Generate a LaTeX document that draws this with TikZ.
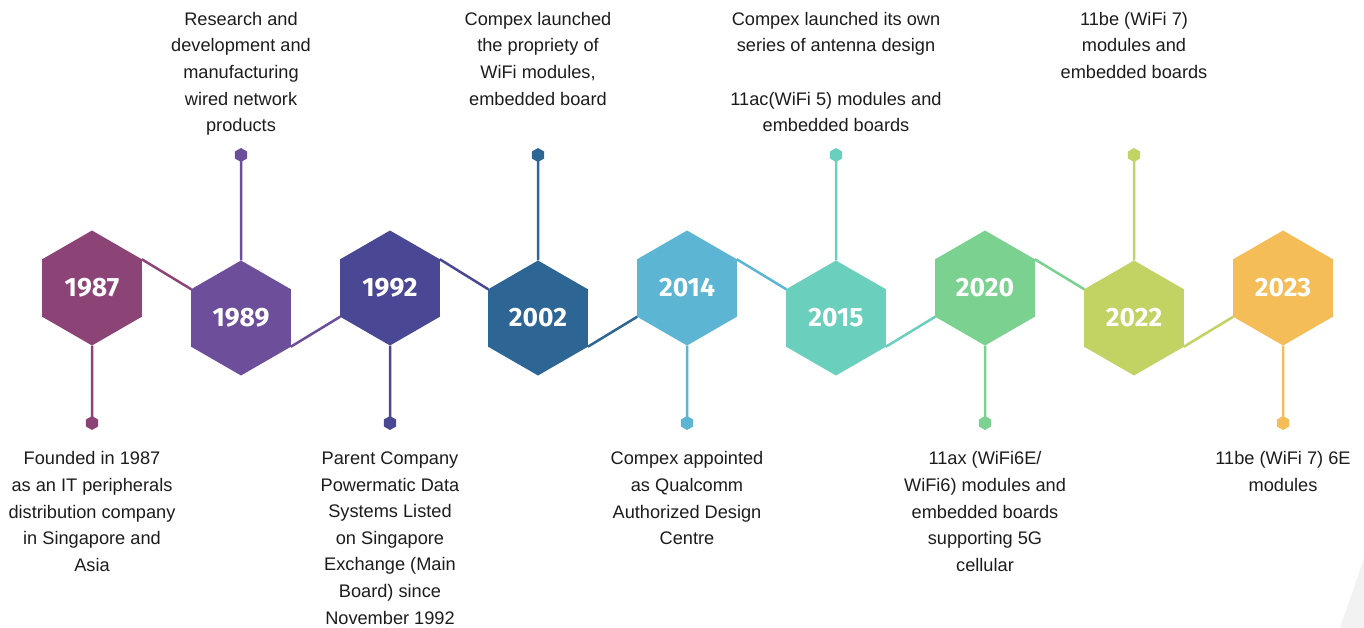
\documentclass[tikz,border=0pt]{standalone}
\usepackage{fontspec}
\setmainfont{Liberation Sans}
\newfontfamily\yearfont{Fira Sans}
\usetikzlibrary{shapes.geometric}
\definecolor{cA}{HTML}{8C4477}
\definecolor{cB}{HTML}{6D4E9A}
\definecolor{cC}{HTML}{4A4894}
\definecolor{cD}{HTML}{2D6595}
\definecolor{cE}{HTML}{5CB5D2}
\definecolor{cF}{HTML}{6ACFBC}
\definecolor{cG}{HTML}{7BD190}
\definecolor{cH}{HTML}{C2D263}
\definecolor{cI}{HTML}{F4BD58}
\definecolor{txt}{HTML}{1C1C1C}
\tikzset{
  hexa/.style={regular polygon, regular polygon sides=6, shape border rotate=30,
    minimum size=115pt, inner sep=0pt, outer sep=0pt, fill=#1, draw=none,
    text=white, font=\yearfont\bfseries\fontsize{26.5}{26.5}\selectfont},
  dotx/.style={regular polygon, regular polygon sides=6, shape border rotate=30,
    minimum size=14pt, inner sep=0pt, outer sep=0pt, fill=#1, draw=none},
  conn/.style={line width=2.5pt, draw=#1},
  desc/.style={anchor=north, align=center, inner sep=0pt, text=txt,
    font=\fontsize{18.2}{26.6}\selectfont}
}
\begin{document}
\begin{tikzpicture}[x=1pt,y=-1pt]
\useasboundingbox (0,0) rectangle (1364,628);
\fill[gray!10] (1340,628) -- (1364,558) -- (1364,628) -- cycle;
% hexagons
\node[hexa=cA] (h1) at (92,288) {1987};
\node[hexa=cB] (h2) at (241,318) {1989};
\node[hexa=cC] (h3) at (390,288) {1992};
\node[hexa=cD] (h4) at (538,318) {2002};
\node[hexa=cE] (h5) at (687,288) {2014};
\node[hexa=cF] (h6) at (836,318) {2015};
\node[hexa=cG] (h7) at (985,288) {2020};
\node[hexa=cH] (h8) at (1134,318) {2022};
\node[hexa=cI] (h9) at (1283,288) {2023};
% dots
\node[dotx=cA] (d1) at (92,423) {};
\node[dotx=cB] (d2) at (241,155) {};
\node[dotx=cC] (d3) at (390,423) {};
\node[dotx=cD] (d4) at (538,155) {};
\node[dotx=cE] (d5) at (687,423) {};
\node[dotx=cF] (d6) at (836,155) {};
\node[dotx=cG] (d7) at (985,423) {};
\node[dotx=cH] (d8) at (1134,155) {};
\node[dotx=cI] (d9) at (1283,423) {};
% connectors between hexagons
\draw[conn=cA] (h1.30) -- (h2.150);
\draw[conn=cB] (h2.-30) -- (h3.210);
\draw[conn=cC] (h3.30) -- (h4.150);
\draw[conn=cD] (h4.-30) -- (h5.210);
\draw[conn=cE] (h5.30) -- (h6.150);
\draw[conn=cF] (h6.-30) -- (h7.210);
\draw[conn=cG] (h7.30) -- (h8.150);
\draw[conn=cH] (h8.-30) -- (h9.210);
% stems
\draw[conn=cA] (h1.south) -- (d1.center);
\draw[conn=cB] (h2.north) -- (d2.center);
\draw[conn=cC] (h3.south) -- (d3.center);
\draw[conn=cD] (h4.north) -- (d4.center);
\draw[conn=cE] (h5.south) -- (d5.center);
\draw[conn=cF] (h6.north) -- (d6.center);
\draw[conn=cG] (h7.south) -- (d7.center);
\draw[conn=cH] (h8.north) -- (d8.center);
\draw[conn=cI] (h9.south) -- (d9.center);
% descriptions
\node[desc] (t1) at (92,451.5) {Founded in 1987\\as an IT peripherals\\distribution company\\in Singapore and\\Asia};
\node[desc] (t2) at (241,12) {Research and\\development and\\manufacturing\\wired network\\products};
\node[desc] (t3) at (390,451.5) {Parent Company\\Powermatic Data\\Systems Listed\\on Singapore\\Exchange (Main\\Board) since\\November 1992};
\node[desc] (t4) at (538,12) {Compex launched\\the propriety of\\WiFi modules,\\embedded board};
\node[desc] (t5) at (687,451.5) {Compex appointed\\as Qualcomm\\Authorized Design\\Centre};
\node[desc] (t6) at (836,12) {Compex launched its own\\series of antenna design\\[26.6pt]11ac(WiFi 5) modules and\\embedded boards};
\node[desc] (t7) at (985,451.5) {11ax (WiFi6E/\\WiFi6) modules and\\embedded boards\\supporting 5G\\cellular};
\node[desc] (t8) at (1134,12) {11be (WiFi 7)\\modules and\\embedded boards};
\node[desc] (t9) at (1283,451.5) {11be (WiFi 7) 6E\\modules};
\end{tikzpicture}
\end{document}
